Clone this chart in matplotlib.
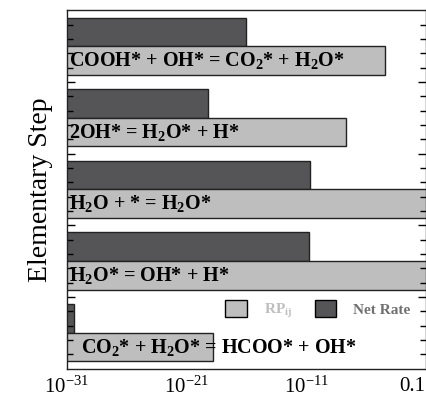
import matplotlib
matplotlib.use("Agg")
import matplotlib.pyplot as plt
import matplotlib.transforms as mtransforms
from matplotlib.patches import Patch
from matplotlib.ticker import FixedLocator, FixedFormatter

plt.rcParams['font.family'] = ['Liberation Serif', 'DejaVu Serif']
plt.rcParams['mathtext.fontset'] = 'custom'
plt.rcParams['mathtext.rm'] = 'Liberation Serif'
plt.rcParams['mathtext.it'] = 'Liberation Serif:italic'
plt.rcParams['mathtext.bf'] = 'Liberation Serif:bold'

# steps listed bottom to top
steps = [
    r"CO$_\mathbf{2}$* + H$_\mathbf{2}$O* = HCOO* + OH*",
    r"H$_\mathbf{2}$O* = OH* + H*",
    r"H$_\mathbf{2}$O + * = H$_\mathbf{2}$O*",
    r"2OH* = H$_\mathbf{2}$O* + H*",
    r"COOH* + OH* = CO$_\mathbf{2}$* + H$_\mathbf{2}$O*",
]
net_rate = [10**-30.4, 10**-10.8, 10**-10.7, 10**-19.2, 10**-16.0]
rp_ij = [10**-18.8, 1.0, 1.0, 10**-7.7, 10**-4.4]
label_x = [0.04, 0.005, 0.005, 0.005, 0.005]

xticks = [1e-31, 1e-21, 1e-11, 1e-1]
xticklabels = [r"$10^{-31}$", r"$10^{-21}$", r"$10^{-11}$", "0.1"]

dark = "#555558"
light = "#bebebe"

fig = plt.figure(figsize=(4.27, 3.98), dpi=100)
ax = fig.add_axes([0.157, 0.074, 0.84, 0.9])

ypos = list(range(len(steps)))
ax.barh(ypos, net_rate, height=0.4, align='edge', left=1e-40,
        color=dark, edgecolor="#222222", linewidth=1.0)
ax.barh([y - 0.4 for y in ypos], rp_ij, height=0.4, align='edge', left=1e-40,
        color=light, edgecolor="#222222", linewidth=1.0)

trans = mtransforms.blended_transform_factory(ax.transAxes, ax.transData)
for y, text, lx in zip(ypos, steps, label_x):
    ax.text(lx, y - 0.2, text, transform=trans, fontsize=14.5, fontweight='bold',
            va='center', ha='left', color='black')

ax.set_xscale('log')
ax.set_xlim(1e-31, 1e-1)
ax.set_ylim(-0.5, 4.5)
ax.xaxis.set_major_locator(FixedLocator(xticks))
ax.xaxis.set_major_formatter(FixedFormatter(xticklabels))
ax.xaxis.set_minor_locator(FixedLocator([]))
ax.tick_params(axis='x', length=0, labelsize=15, pad=6)
ax.get_xticklabels()[-1].set_horizontalalignment('right')

ax.yaxis.set_major_locator(FixedLocator([0.5, 1.5, 2.5, 3.5]))
ax.yaxis.set_minor_locator(FixedLocator([-0.3 + 0.2 * k for k in range(24) if k % 5 != 4]))
ax.tick_params(axis='y', which='both', direction='in', left=True, right=True,
               labelleft=False)
ax.tick_params(axis='y', which='major', length=6, width=1)
ax.tick_params(axis='y', which='minor', length=4, width=1)

for s in ax.spines.values():
    s.set_linewidth(1.0)
    s.set_color("#222222")

ax.set_ylabel("Elementary Step", fontsize=20, labelpad=10)

handles = [Patch(facecolor=light, edgecolor='black', linewidth=1.0),
           Patch(facecolor=dark, edgecolor='black', linewidth=1.0)]
leg = ax.legend(handles, [r"RP$_\mathbf{ij}$", "Net Rate"], ncol=2, frameon=False,
                loc='center right', bbox_to_anchor=(0.995, 0.163),
                prop={'weight': 'bold', 'size': 11}, handlelength=1.4,
                handleheight=1.3, columnspacing=1.5, handletextpad=1.1)
leg.get_texts()[0].set_color(light)
leg.get_texts()[1].set_color("#707070")

fig.savefig("out.png", dpi=100)
